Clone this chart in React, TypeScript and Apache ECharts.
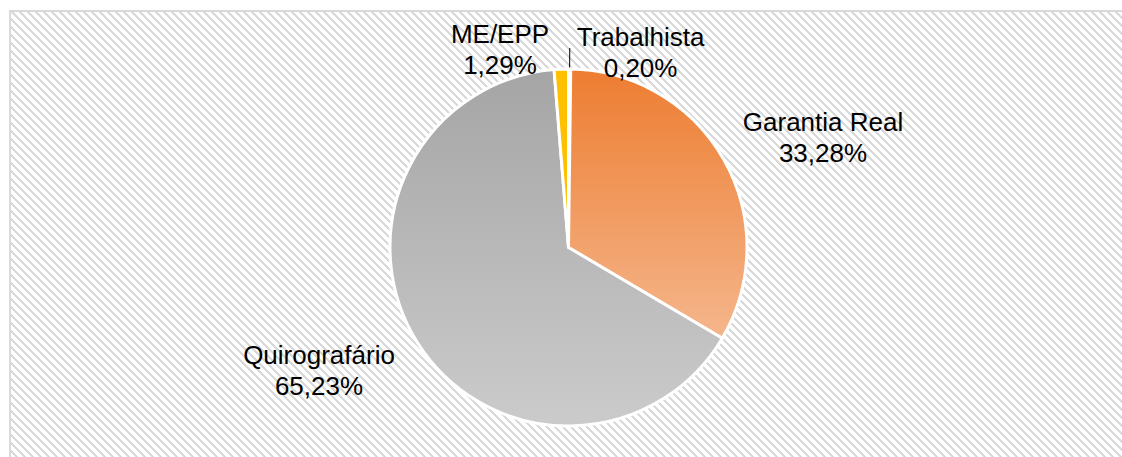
import React, { useEffect, useRef } from 'react';
import * as echarts from 'echarts';

const categories = ['Trabalhista', 'Garantia Real', 'Quirografário', 'ME/EPP'];
const values = [0.2, 33.28, 65.23, 1.29];
const colorsTop = ['#4472C4', '#ED7D31', '#A5A5A5', '#FFC000'];
const colorsBottom = ['#4472C4', '#F5B68C', '#CBCBCB', '#FFC000'];
// centres of the labels placed freely (null = placed by the pie with a leader line)
const labelCenters: ([number, number] | null)[] = [null, [823, 137], [319, 370], [500, 49]];

const fmtPct = (v: number) => v.toFixed(2).replace('.', ',') + '%';

const hatch = (() => {
  let r = '';
  for (let y = 0; y < 8; y++) {
    for (let k = 0; k < 3; k++) {
      const x = (y + k) % 8;
      r += `<rect x='${x}' y='${y}' width='1' height='1'/>`;
    }
  }
  const svg = `<svg xmlns='http://www.w3.org/2000/svg' width='8' height='8' shape-rendering='crispEdges'><g fill='#d9d9d9'>${r}</g></svg>`;
  return `url("data:image/svg+xml,${encodeURIComponent(svg)}")`;
})();

export default function App() {
  const ref = useRef<HTMLDivElement>(null);

  useEffect(() => {
    if (!ref.current) return;
    const chart = echarts.init(ref.current, undefined, { renderer: 'svg' });
    const data = categories.map((name, i) => {
      const item: any = {
        name,
        value: values[i],
        itemStyle: {
          color: {
            type: 'linear',
            x: 0,
            y: 0,
            x2: 0,
            y2: 1,
            colorStops: [
              { offset: 0, color: colorsTop[i] },
              { offset: 1, color: colorsBottom[i] },
            ],
          },
        },
      };
      if (labelCenters[i] === null) {
        item.labelLine = { show: true, length: 21, length2: 0 };
        item.label = { distanceToLabelLine: 7, padding: [8, 0, 0, 0] };
      }
      return item;
    });

    chart.setOption({
      animation: false,
      backgroundColor: 'transparent',
      series: [
        {
          type: 'pie',
          center: [568.5, 247.5],
          radius: 178.5,
          startAngle: 90,
          clockwise: true,
          avoidLabelOverlap: false,
          silent: true,
          itemStyle: { borderColor: '#ffffff', borderWidth: 3 },
          label: {
            show: true,
            position: 'outside',
            overflow: 'none',
            color: '#000000',
            fontFamily: 'Liberation Sans, Arial, sans-serif',
            fontSize: 26,
            formatter: (p: any) => `{c|${p.name}}\n{c|${fmtPct(p.value)}}`,
            rich: {
              c: {
                align: 'center',
                fontFamily: 'Liberation Sans, Arial, sans-serif',
                fontSize: 26,
                lineHeight: 31,
                color: '#000000',
              },
            },
          },
          labelLine: {
            show: false,
            smooth: false,
            lineStyle: { color: '#000000', width: 1 },
          },
          labelLayout: (params: any) => {
            const c = labelCenters[params.dataIndex];
            if (!c) return {};
            return { x: c[0], y: c[1], align: 'center', verticalAlign: 'middle' };
          },
          data,
        },
      ],
    });
    return () => chart.dispose();
  }, []);

  return (
    <div
      style={{
        position: 'fixed',
        left: 0,
        top: 0,
        width: 1122,
        height: 457,
        overflow: 'hidden',
        background: '#ffffff',
      }}
    >
      <div
        style={{
          position: 'absolute',
          left: 9,
          top: 10,
          width: 1140,
          height: 470,
          borderLeft: '2px solid #d9d9d9',
          borderTop: '2px solid #d9d9d9',
          backgroundColor: '#ffffff',
          backgroundImage: hatch,
          backgroundRepeat: 'repeat',
        }}
      />
      <div ref={ref} style={{ position: 'absolute', left: 0, top: 0, width: 1122, height: 457 }} />
    </div>
  );
}
